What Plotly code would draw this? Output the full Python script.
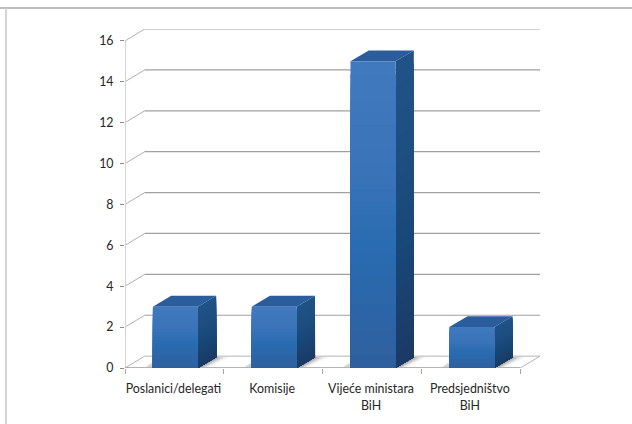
import plotly.graph_objects as go

categories = ["Poslanici/delegati", "Komisije", "Vijeće ministara<br>BiH", "Predsjedništvo<br>BiH"]
values = [3, 3, 15, 2]
y_ticks = [0, 2, 4, 6, 8, 10, 12, 14, 16]

# 3D projection, in axis units
DX, DY = 0.2, 0.58      # wall depth
BDX, BDY = 0.185, 0.53  # bar depth
BW = 0.456              # bar width
N = 24

front_stops = [(0, (64, 121, 190)), (0.35, (58, 115, 184)), (0.58, (41, 108, 177)), (1, (47, 95, 157))]
side_stops = [(0, (31, 82, 135)), (0.35, (30, 78, 128)), (0.58, (24, 72, 120)), (1, (27, 57, 100))]


def mix(stops, t):
    for (a, ca), (b, cb) in zip(stops, stops[1:]):
        if t <= b:
            f = (t - a) / (b - a)
            return "rgb(%d,%d,%d)" % tuple(round(p + (q - p) * f) for p, q in zip(ca, cb))
    return "rgb(%d,%d,%d)" % stops[-1][1]


fig = go.Figure()


def line(xs, ys, color, width=1):
    fig.add_trace(go.Scatter(x=xs, y=ys, mode="lines", line=dict(color=color, width=width),
                             hoverinfo="skip", showlegend=False))


def poly(xs, ys, color):
    fig.add_trace(go.Scatter(x=xs + [xs[0]], y=ys + [ys[0]], mode="lines", fill="toself", fillcolor=color,
                             line=dict(width=0, color=color), hoverinfo="skip", showlegend=False))


n = len(categories)
# walls: gridlines
for v in y_ticks:
    if v > 0:
        line([0, DX], [v, v + DY], "#b0b0b0", 1)
        line([DX, n + DX], [v + DY, v + DY], "#a0a0a0", 1.2)
# floor
line([0, DX, n + DX, n], [0, DY, DY, 0], "#b4b4b4", 1)
# axes
line([0, 0], [0, y_ticks[-1]], "#d4d4d4", 2)
line([0, n], [0, 0], "#9a9a9a", 1.5)

SHADES = 8
for i, v in enumerate(values):
    c = i + 0.51
    l, r = c - BW / 2, c + BW / 2
    # floor shadow: painted far to near, fading outwards from the bar
    for k in range(SHADES):
        a = 1 - k / SHADES
        g = 255 - round(85 * (k / (SHADES - 1)) ** 1.6)
        poly([r, r + 0.03 + 0.1 * a, r + BDX + 0.16 * a, r + BDX],
             [0.05, 0.05, BDY, BDY], "rgb(%d,%d,%d)" % (g, g, g))
    poly([l - 0.07, l, l, l - 0.02], [0.05, 0.05, 0.22, 0.22], "#d4d4d4")
    # top face
    poly([l, l + BDX, r + BDX, r], [v, v + BDY, v + BDY, v], "#2b5c9b")
    # side face (painted top-down, each band overlaps the next)
    for k in range(N):
        t = k / N
        y_hi = v * (1 - t)
        poly([r, r + BDX, r + BDX, r], [0, BDY, y_hi + BDY, y_hi], mix(side_stops, t))
    # front face
    for k in range(N):
        t = k / N
        y_hi = v * (1 - t)
        poly([l, r, r, l], [0, 0, y_hi, y_hi], mix(front_stops, t))

fig.update_layout(
    width=632, height=424, autosize=False,
    margin=dict(l=125, r=92, t=29, b=56),
    plot_bgcolor="white", paper_bgcolor="white",
    font=dict(family="Lato", size=12.4, color="#262626"),
    showlegend=False,
    xaxis=dict(range=[0, n + DX], tickmode="array", tickvals=[i + 0.49 for i in range(n)], ticktext=categories,
               ticks="", showgrid=False, zeroline=False, showline=False, tickangle=0, ticklabelstandoff=12,
               minor=dict(ticks="outside", tick0=0, dtick=1, ticklen=5, tickcolor="#a6a6a6", tickwidth=1, showgrid=False)),
    yaxis=dict(range=[0, y_ticks[-1] + DY], tickmode="array", tickvals=y_ticks, ticks="outside", ticklen=4,
               tickcolor="#8c8c8c", showgrid=False, zeroline=False, showline=False, ticklabelstandoff=4),
    shapes=[
        dict(type="line", xref="paper", yref="paper", x0=-125 / 415, x1=507 / 415, y0=1 + 21 / 339, y1=1 + 21 / 339,
             line=dict(color="#a8a8a8", width=1.5)),
        dict(type="line", xref="paper", yref="paper", x0=-119 / 415, x1=-119 / 415, y0=1 + 21 / 339, y1=-56 / 339,
             line=dict(color="#c8c8c8", width=1.5)),
    ],
)
fig.write_html("out.html", config={"displayModeBar": False}, post_script="document.body.style.margin='0';")
